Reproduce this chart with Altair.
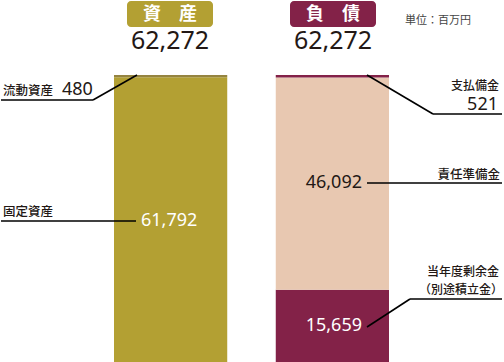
import altair as alt
import pandas as pd

# Balance sheet (unit: million yen)
asset_items = ["流動資産", "固定資産"]
asset_values = [480, 61792]
liab_items = ["支払備金", "責任準備金", "当年度剰余金（別途積立金）"]
liab_values = [521, 46092, 15659]
sides = ["資産", "負債"]

asset_total = sum(asset_values)
liab_total = sum(liab_values)

# colours per item
item_colors = {
    "流動資産": "#958440",
    "固定資産": "#b3a033",
    "支払備金": "#832248",
    "責任準備金": "#e8c8b1",
    "当年度剰余金（別途積立金）": "#832248",
}
OLIVE = "#b3a033"
MAROON = "#832248"
INK = "#231815"
JP = "Noto Sans CJK JP"
NUM = "Noto Sans"

rows = []
# stack order: first row sits at the bottom
for i, (it, v) in enumerate(zip(reversed(asset_items), reversed(asset_values))):
    rows.append({"side": "資産", "item": it, "value": v, "ord": i})
for i, (it, v) in enumerate(zip(reversed(liab_items), reversed(liab_values))):
    rows.append({"side": "負債", "item": it, "value": v, "ord": i})
df = pd.DataFrame(rows)

y_scale = alt.Scale(domain=[0, asset_total], range=[362, 75], nice=False, zero=True)

bars = alt.Chart(df).mark_bar(strokeWidth=0).encode(
    x=alt.X("side:N", scale=alt.Scale(domain=sides, range=[114, 389],
                                      paddingInner=0.3, paddingOuter=0), axis=None),
    y=alt.Y("value:Q", stack="zero", scale=y_scale, axis=None),
    order=alt.Order("ord:Q"),
    color=alt.Color("item:N", scale=alt.Scale(domain=list(item_colors.keys()),
                                              range=list(item_colors.values())),
                    legend=None),
)

layers = [bars]


def text(t, x, y, size, color=INK, font=JP, align="left", weight=500):
    return alt.Chart().mark_text(text=t, fontSize=size, font=font, color=color,
                                 align=align, baseline="middle",
                                 fontWeight=weight).encode(
        x=alt.value(x), y=alt.value(y))


def num(t, x, y, size, color=INK, align="left"):
    return text(t, x, y, size, color=color, font=NUM, align=align, weight="normal")


def hline(x1, x2, y):
    return alt.Chart().mark_rule(color="black", strokeWidth=1.6).encode(
        x=alt.value(x1), x2=alt.value(x2), y=alt.value(y))


def diag_to_top(x_top, total, x2, y2):
    return alt.Chart().mark_rule(color="black", strokeWidth=1.6).encode(
        x=alt.value(x_top), y=alt.datum(total), x2=alt.value(x2), y2=alt.value(y2))


def diag(x1, y1, x2, y2):
    return alt.Chart().mark_rule(color="black", strokeWidth=1.6).encode(
        x=alt.value(x1), y=alt.value(y1), x2=alt.value(x2), y2=alt.value(y2))


def badge(x1, x2, color, label, cx):
    rect = alt.Chart().mark_rect(color=color, cornerRadius=4).encode(
        x=alt.value(x1), x2=alt.value(x2), y=alt.value(1), y2=alt.value(27))
    return [rect, text(label, cx, 14.5, 18, color="white", align="center", weight="bold")]


# headers
layers += badge(127, 213, OLIVE, "資　産", 170)
layers += badge(290, 376, MAROON, "負　債", 333)
layers.append(num(f"{asset_total:,}", 170, 41, 25, align="center"))
layers.append(num(f"{liab_total:,}", 333, 41, 25, align="center"))
layers.append(text("単位：百万円", 405, 21, 11, color="#444444", weight="normal"))

# assets annotations
layers.append(text(asset_items[0], 3, 91, 12.5))
layers.append(num(f"{asset_values[0]:,}", 62, 90, 18))
layers.append(hline(1, 93, 100))
layers.append(diag_to_top(137, asset_total, 93, 100))

layers.append(text(asset_items[1], 3, 212, 12.5))
layers.append(hline(1, 136, 221))
layers.append(num(f"{asset_values[1]:,}", 141, 221, 18, color="white"))

# liabilities annotations
layers.append(text(liab_items[0], 499, 86, 12, align="right"))
layers.append(num(f"{liab_values[0]:,}", 498, 105, 18, align="right"))
layers.append(diag_to_top(367, liab_total, 433, 114))
layers.append(hline(433, 502, 114))

layers.append(text(liab_items[1], 500, 175, 12.5, align="right"))
layers.append(hline(367, 502, 183))
layers.append(num(f"{liab_values[1]:,}", 362, 183, 18, align="right"))

layers.append(text("当年度剰余金", 499, 272, 12, align="right"))
layers.append(text("（別途積立金）", 503, 290, 12, align="right"))
layers.append(hline(410, 502, 299))
layers.append(diag(410, 299, 367, 327))
layers.append(num(f"{liab_values[2]:,}", 362, 326, 18, color="white", align="right"))

chart = alt.layer(*layers).properties(
    width=504, height=362, padding=0, autosize="none", background="white"
).configure_view(stroke=None)

chart.save("out.html", embed_options={"renderer": "svg", "actions": False})
